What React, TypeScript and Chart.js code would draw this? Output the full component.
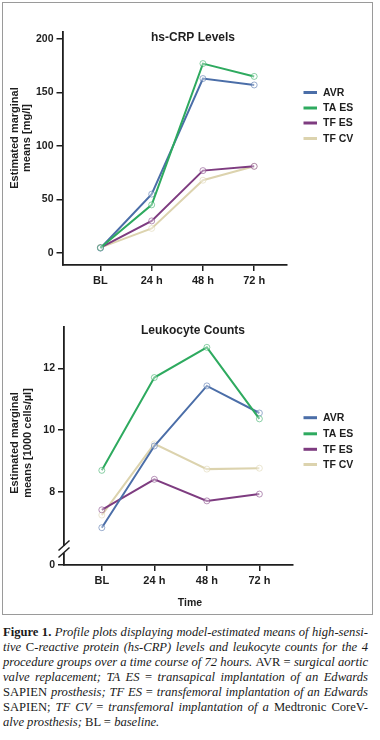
import React, { useEffect, useLayoutEffect, useRef } from 'react';
import { Chart, registerables } from 'chart.js';
Chart.register(...registerables);

// ---------- data ----------
const timeLabels = ['BL', '24 h', '48 h', '72 h'];
const seriesNames = ['AVR', 'TA ES', 'TF ES', 'TF CV'];
const seriesColors = ['#4b6ea8', '#2eaa5f', '#7e3c80', '#dcd3ae'];

const crpAVR = [4.5, 55, 163, 157];
const crpTAES = [5, 45, 177, 165];
const crpTFES = [5, 30, 77, 81];
const crpTFCV = [5, 23, 68, 81];
const crpTicks = [0, 50, 100, 150, 200];

const leuAVR = [6.83, 9.48, 11.43, 10.55];
const leuTAES = [8.69, 11.7, 12.68, 10.36];
const leuTFES = [7.41, 8.4, 7.7, 7.92];
const leuTFCV = [7.24, 9.55, 8.73, 8.76];
const leuTicks = [8, 10, 12];
const leuBreakLabel = '0';

const FONT = '"Liberation Sans", Arial, Helvetica, sans-serif';
const INK = '#1e1e1e';

function fade(hex: string, a: number) {
  const n = parseInt(hex.slice(1), 16);
  return `rgba(${(n >> 16) & 255},${(n >> 8) & 255},${n & 255},${a})`;
}

const decorPlugin = {
  id: 'decor',
  afterDraw(chart: any, _args: any, o: any) {
    const ctx = chart.ctx as CanvasRenderingContext2D;
    ctx.save();
    ctx.fillStyle = INK;
    ctx.textAlign = 'center';
    ctx.textBaseline = 'middle';
    // title
    ctx.font = `bold 12px ${FONT}`;
    ctx.fillText(o.title, o.titleX, o.titleY);
    // y title
    ctx.font = `bold 11px ${FONT}`;
    o.yTitle.forEach((line: string, k: number) => {
      ctx.save();
      ctx.translate(o.yTitleX[k], o.yTitleY);
      ctx.rotate(-Math.PI / 2);
      ctx.fillText(line, 0, 0);
      ctx.restore();
    });
    // x title
    if (o.xTitle) {
      ctx.font = `bold 10.5px ${FONT}`;
      ctx.fillText(o.xTitle, o.xTitleX, o.xTitleY);
    }
    // legend
    ctx.textAlign = 'left';
    ctx.font = `bold 10.5px ${FONT}`;
    chart.data.datasets.forEach((ds: any, i: number) => {
      const y = o.legendY[i];
      ctx.strokeStyle = ds.borderColor;
      ctx.lineWidth = 3;
      ctx.beginPath();
      ctx.moveTo(303.5, y);
      ctx.lineTo(317, y);
      ctx.stroke();
      ctx.fillStyle = INK;
      ctx.fillText(ds.label, 323, y + 0.5);
    });
    // axis break
    if (o.brk) {
      const ax = chart.chartArea.left;
      const y0 = o.brkY;
      ctx.fillStyle = '#ffffff';
      ctx.fillRect(ax - 2, y0 - 3, 4, 7);
      ctx.strokeStyle = INK;
      ctx.lineWidth = 1.5;
      [-3.5, 3.5].forEach((d) => {
        ctx.beginPath();
        ctx.moveTo(ax - 5.5, y0 + d + 5);
        ctx.lineTo(ax + 5.5, y0 + d - 5);
        ctx.stroke();
      });
    }
    ctx.restore();
  },
};

type Spec = {
  series: number[][];
  yMin: number;
  yMax: number;
  yTicks: number[];
  breakLabel?: string;
  xMin: number;
  xMax: number;
  padTop: number;
  padRight: number;
  yWidth: number;
  xHeight: number;
  decor: any;
};

function makeConfig(spec: Spec): any {
  const datasets = spec.series.map((vals, i) => ({
    label: seriesNames[i],
    data: vals.map((y, x) => ({ x, y })),
    borderColor: seriesColors[i],
    backgroundColor: seriesColors[i],
    borderWidth: 2,
    pointRadius: 3,
    pointBorderWidth: 1,
    pointBorderColor: fade(seriesColors[i], 0.55),
    pointBackgroundColor: 'rgba(255,255,255,0.35)',
    tension: 0,
    order: i === 1 ? 0 : 1,
  }));
  const axisCommon = {
    grid: { drawOnChartArea: false, drawTicks: true, tickLength: 6, color: INK, lineWidth: 1.5 },
    border: { display: true, color: INK, width: 1.8 },
  };
  return {
    type: 'line',
    data: { datasets },
    plugins: [decorPlugin],
    options: {
      responsive: false,
      animation: false,
      events: [],
      layout: { padding: { top: spec.padTop, right: spec.padRight, left: 0, bottom: 0 } },
      scales: {
        x: {
          type: 'linear',
          min: spec.xMin,
          max: spec.xMax,
          ...axisCommon,
          afterBuildTicks: (s: any) => {
            s.ticks = timeLabels.map((_, i) => ({ value: i }));
          },
          afterFit: (s: any) => {
            s.height = spec.xHeight;
          },
          ticks: {
            padding: 3,
            color: INK,
            font: { family: FONT, size: 11, weight: 'bold' },
            callback: (v: number) => timeLabels[v] ?? '',
            maxRotation: 0,
          },
        },
        y: {
          type: 'linear',
          min: spec.yMin,
          max: spec.yMax,
          ...axisCommon,
          afterBuildTicks: (s: any) => {
            const t = spec.yTicks.map((v) => ({ value: v }));
            if (spec.breakLabel !== undefined) t.unshift({ value: spec.yMin });
            s.ticks = t;
          },
          afterFit: (s: any) => {
            s.width = spec.yWidth;
          },
          ticks: {
            padding: 3,
            color: INK,
            font: { family: FONT, size: 10.5, weight: 'bold' },
            callback: (v: number) =>
              spec.breakLabel !== undefined && v === spec.yMin ? spec.breakLabel : String(v),
          },
        },
      },
      plugins: {
        legend: { display: false },
        tooltip: { enabled: false },
        decor: spec.decor,
      },
    },
  };
}

function LineChart({ spec, top, height }: { spec: Spec; top: number; height: number }) {
  const ref = useRef<HTMLCanvasElement | null>(null);
  useEffect(() => {
    if (!ref.current) return;
    const chart = new Chart(ref.current, makeConfig(spec));
    return () => chart.destroy();
  }, []);
  return (
    <canvas
      ref={ref}
      width={380}
      height={height}
      style={{ position: 'absolute', left: 0, top, width: 380, height }}
    />
  );
}

const crpSpec: Spec = {
  series: [crpAVR, crpTAES, crpTFES, crpTFCV],
  yMin: -11.2,
  yMax: 206.5,
  yTicks: crpTicks,
  xMin: -0.74,
  xMax: 3.64,
  padTop: 32,
  padRight: 93,
  yWidth: 62.5,
  xHeight: 35,
  decor: {
    title: 'hs-CRP Levels',
    titleX: 193,
    titleY: 38,
    yTitle: ['Estimated marginal', 'means [mg/l]'],
    yTitleX: [14.5, 26.5],
    yTitleY: 138,
    legendY: [92.5, 108, 123, 138.5],
  },
};

const leuSpec: Spec = {
  series: [leuAVR, leuTAES, leuTFES, leuTFCV],
  yMin: 5.62,
  yMax: 13.34,
  yTicks: leuTicks,
  breakLabel: leuBreakLabel,
  xMin: -0.72,
  xMax: 3.64,
  padTop: 27,
  padRight: 87,
  yWidth: 64,
  xHeight: 50,
  decor: {
    title: 'Leukocyte Counts',
    titleX: 193,
    titleY: 31,
    yTitle: ['Estimated marginal', 'means [1000 cells/\u00b5l]'],
    yTitleX: [15, 27.5],
    yTitleY: 143,
    legendY: [117.7, 133.8, 149.3, 164.5],
    xTitle: 'Time',
    xTitleX: 190,
    xTitleY: 303,
    brk: true,
    brkY: 249,
  },
};

type Seg = { t: string; b?: boolean; i?: boolean };
const captionLines: Seg[][] = [
  [{ t: 'Figure 1.', b: true }, { t: ' Profile plots displaying model-estimated means of high-sensi-', i: true }],
  [{ t: 'tive ', i: true }, { t: 'C' }, { t: '-reactive protein (hs-CRP) levels and leukocyte counts for the 4', i: true }],
  [{ t: 'procedure groups over a time course of 72 hours. ', i: true }, { t: 'AVR = ' }, { t: 'surgical aortic', i: true }],
  [{ t: 'valve replacement; TA ES ', i: true }, { t: '= ' }, { t: 'transapical implantation of an Edwards', i: true }],
  [{ t: 'SAPIEN ' }, { t: 'prosthesis; TF ES ', i: true }, { t: '= ' }, { t: 'transfemoral implantation of an Edwards', i: true }],
  [{ t: 'SAPIEN; ' }, { t: 'TF CV ', i: true }, { t: '= ' }, { t: 'transfemoral implantation of a ', i: true }, { t: 'Medtronic CoreV-' }],
  [{ t: 'alve prosthesis; ', i: true }, { t: 'BL = ' }, { t: 'baseline.', i: true }],
];

function Caption() {
  const refs = useRef<(HTMLSpanElement | null)[]>([]);
  const TARGET = 365;
  useLayoutEffect(() => {
    refs.current.forEach((el, k) => {
      if (!el || k === captionLines.length - 1) return;
      el.style.wordSpacing = '0px';
      const w = el.getBoundingClientRect().width;
      const spaces = (el.textContent || '').split(' ').length - 1;
      if (spaces > 0) el.style.wordSpacing = `${(TARGET - w) / spaces}px`;
    });
  }, []);
  return (
    <div
      style={{
        position: 'absolute',
        left: 3,
        top: 625,
        width: 370,
        fontFamily: '"Liberation Serif", "Times New Roman", serif',
        fontSize: 12.6,
        lineHeight: '15px',
        color: '#1a1a1a',
      }}
    >
      {captionLines.map((line, k) => (
        <div key={k} style={{ whiteSpace: 'nowrap', height: 15 }}>
          <span ref={(el) => { refs.current[k] = el; }}>
            {line.map((s, j) => (
              <span key={j} style={{ fontWeight: s.b ? 'bold' : 'normal', fontStyle: s.i ? 'italic' : 'normal' }}>
                {s.t}
              </span>
            ))}
          </span>
        </div>
      ))}
    </div>
  );
}

export default function App() {
  return (
    <div style={{ position: 'absolute', left: 0, top: 0, width: 380, height: 740, background: '#fff' }}>
      <div
        style={{
          position: 'absolute',
          left: 2,
          top: 2,
          width: 371,
          height: 613,
          boxSizing: 'border-box',
          border: '1px solid #9a9a9a',
        }}
      />
      <LineChart spec={crpSpec} top={0} height={300} />
      <LineChart spec={leuSpec} top={300} height={315} />
      <Caption />
    </div>
  );
}
